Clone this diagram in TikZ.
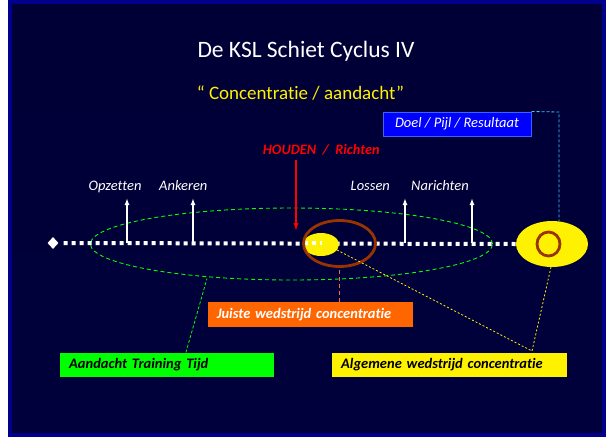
\documentclass[tikz,border=0pt]{standalone}
\usepackage{fontspec}
\setmainfont{Carlito}[Ligatures=NoCommon]
\usetikzlibrary{shapes.geometric,arrows.meta}
\definecolor{outernavy}{HTML}{00008C}
\definecolor{bgtop}{HTML}{000036}
\definecolor{bgmid}{HTML}{00007E}
\definecolor{bgbot}{HTML}{00003C}
\definecolor{goalblue}{HTML}{0000FF}
\definecolor{goalborder}{HTML}{3366FF}
\definecolor{ringbrown}{HTML}{993300}
\definecolor{boxorange}{HTML}{FF6600}
\definecolor{lineorange}{HTML}{FF6633}
\definecolor{cyanline}{HTML}{33CCFF}
\definecolor{brightgreen}{HTML}{00FF00}
\begin{document}
\begin{tikzpicture}[x=1pt,y=-1pt,
  phase/.style={font=\fontsize{14.5}{16}\selectfont\itshape, text=white, anchor=base, inner sep=0pt},
  uparrow/.style={white, line width=1.8pt, -{Latex[width=5pt,length=7pt]}},
  labelbox/.style={font=\fontsize{14.5}{16}\selectfont\bfseries\itshape, inner xsep=9pt, inner ysep=0pt, align=left, minimum height=24.5pt, anchor=north west},
  connector/.style={line width=0.8pt},
  yelldot/.style={yellow, line width=0.8pt, dash pattern=on 2pt off 2pt}
]
\useasboundingbox (0,0) rectangle (606,437);
\fill[white] (0,0) rectangle (606,437);
\fill[outernavy] (8,0) rectangle (606,436.5);
\shade[top color=bgtop, middle color=bgmid, bottom color=bgbot] (12,4) rectangle (601.5,432);

% titles
\node[font=\fontsize{23.5}{26}\selectfont, text=white, anchor=base, inner sep=0pt] (title) at (306,57.5) {De KSL Schiet Cyclus IV};
\node[font=\fontsize{19}{22}\selectfont, text=yellow, anchor=base, inner sep=0pt] (subtitle) at (300.5,99) {“ Concentratie / aandacht”};

% goal box
\node[draw=goalborder, fill=goalblue, line width=1pt, minimum width=148pt, minimum height=24pt, inner sep=0pt,
      font=\fontsize{14.5}{16}\selectfont\itshape, text=white] (goal) at (457,124) {Doel / Pijl / Resultaat};

% green dashed concentration ellipse
\node[ellipse, draw=brightgreen, line width=0.9pt, dash pattern=on 4pt off 3pt, minimum width=402pt, minimum height=72pt, inner sep=0pt] (training) at (291.5,244) {};

% timeline
\node[diamond, fill=white, minimum width=11pt, minimum height=12pt, inner sep=0pt] (start) at (53,243) {};
\node[ellipse, fill=yellow, minimum width=72pt, minimum height=46pt, inner sep=0pt] (target) at (552,244) {};
\node[ellipse, draw=ringbrown, line width=2.8pt, minimum width=23pt, minimum height=24pt, inner sep=0pt] (ring) at (548.5,244) {};
\draw[white, line width=4pt, dash pattern=on 4pt off 4pt] (start.east) ++(5,0) coordinate (tl0) -- (target.west);

% focus ellipses
\node[ellipse, fill=yellow, minimum width=36pt, minimum height=23pt, inner sep=0pt] (focus) at (321,244.5) {};
\draw[white, line width=4pt, dash pattern=on 4pt off 4pt] (focus.west) ++(1,-1.5) coordinate (fs0) -- ++(18,0);
\node[ellipse, draw=ringbrown, line width=2.8pt, minimum width=72pt, minimum height=46pt, inner sep=0pt] (comp) at (339.5,243.5) {};

% phase labels and arrows
\node[phase] (opz) at (115,190.5) {Opzetten};
\node[phase] (ank) at (183.3,190.5) {Ankeren};
\node[phase] (los) at (370.3,190.5) {Lossen};
\node[phase] (nar) at (440,190.5) {Narichten};
\coordinate (opzb) at (127,243); \coordinate (opzt) at (127,198);
\coordinate (ankb) at (193,243); \coordinate (ankt) at (193,198);
\coordinate (losb) at (405,243); \coordinate (lost) at (405,198);
\coordinate (narb) at (472,243); \coordinate (nart) at (472,198);
\draw[uparrow] (opzb) -- (opzt);
\draw[uparrow] (ankb) -- (ankt);
\draw[uparrow] (losb) -- (lost);
\draw[uparrow] (narb) -- (nart);

% houden
\node[font=\fontsize{14.3}{16}\selectfont\bfseries\itshape, text=red, anchor=base, inner sep=0pt] (houden) at (321.3,154) {HOUDEN~~/~~Richten};
\coordinate (hs) at (296,160); \coordinate (he) at (296,232);
\draw[red, line width=2.2pt, -{Latex[width=5pt,length=9pt]}] (hs) -- (he);

% boxes
\node[labelbox, fill=boxorange, text=white, text width=187.4pt] (juiste) at (207.6,302) {Juiste wedstrijd concentratie};
\node[labelbox, fill=brightgreen, text=black, text width=196pt] (aandacht) at (60,352.5) {Aandacht Training Tijd};
\node[labelbox, fill=yellow, text=black, text width=217pt] (algemeen) at (332,352.5) {Algemene wedstrijd concentratie};

% connectors
\coordinate (cy1) at (559,112);
\draw[cyanline, connector, dash pattern=on 3pt off 2pt] (goal.north east) -- (cy1) -- (target.north -| cy1);
\draw[lineorange, connector, dash pattern=on 4pt off 3pt] (juiste.north -| comp.south) -- (comp.south);
\coordinate (gr1) at (207,278.5);
\draw[brightgreen, connector, dash pattern=on 3pt off 2pt] (aandacht.north east) ++(-88.5,0) coordinate (gr0) -- (gr1);
\coordinate (yl1) at (337,250);
\coordinate (yl2) at (551,267);
\coordinate (ylend) at (532,351);
\draw[yelldot] (yl1) -- (ylend);
\draw[yelldot] (yl2) -- (ylend);
\end{tikzpicture}
\end{document}
